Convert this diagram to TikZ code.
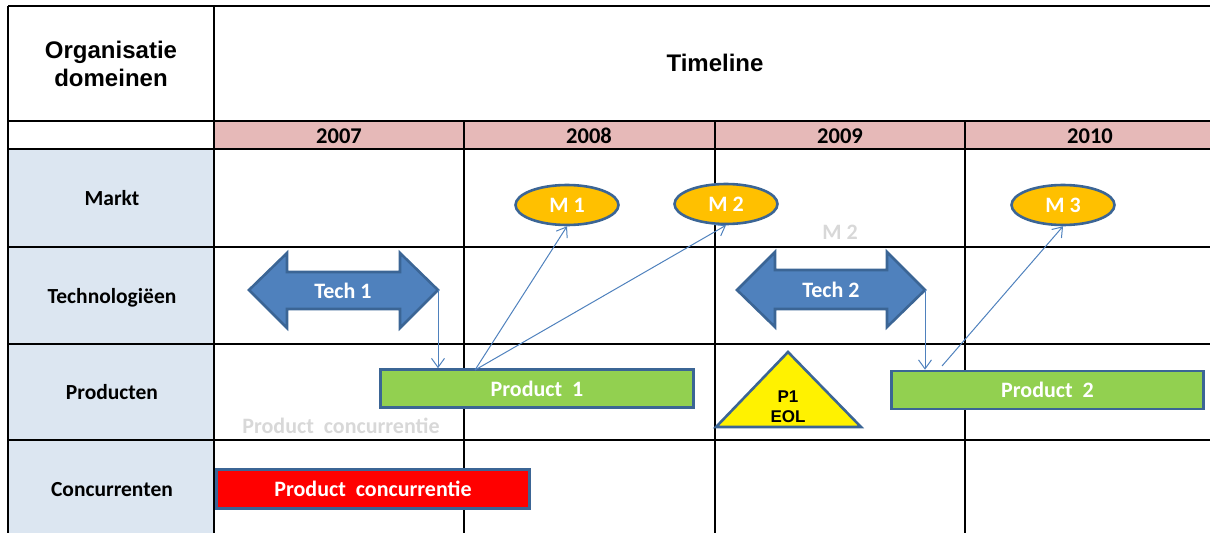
\documentclass[tikz,border=0pt]{standalone}
\usepackage{fontspec}
\setmainfont{Carlito}[Numbers=Lining]
\newfontfamily\arialf{Liberation Sans}
\usetikzlibrary{arrows.meta,shapes.geometric}
\definecolor{yearfill}{HTML}{E6B9B8}
\definecolor{leftfill}{HTML}{DCE6F1}
\definecolor{techfill}{HTML}{4F81BD}
\definecolor{edgeblue}{HTML}{3B6595}
\definecolor{linkblue}{HTML}{4F81BD}
\definecolor{mfill}{HTML}{FFC000}
\definecolor{pfill}{HTML}{92D050}
\definecolor{ghost}{HTML}{D8D8D8}
\begin{document}
\begin{tikzpicture}[x=1pt,y=-1pt,
  grid/.style={line width=1.6pt,black},
  hdr/.style={font=\arialf\bfseries\fontsize{24}{28}\selectfont,align=center},
  year/.style={font=\bfseries\fontsize{22.5}{24}\selectfont,anchor=base},
  rowlab/.style={font=\bfseries\fontsize{21.5}{24}\selectfont,anchor=base},
  shapelab/.style={font=\bfseries\fontsize{22}{24}\selectfont,text=white,anchor=base},
  mnode/.style={ellipse,draw=edgeblue,line width=2.6pt,fill=mfill,minimum width=103,minimum height=40,inner sep=0pt,font=\bfseries\fontsize{22}{24}\selectfont,text=white},
  prodbox/.style={draw=edgeblue,line width=2.6pt,fill=pfill,minimum height=38,inner sep=0pt,font=\bfseries\fontsize{22}{24}\selectfont,text=white},
  techarrow/.style={draw=edgeblue,line width=2.6pt,fill=techfill,line join=miter},
  link/.style={linkblue,line width=1pt,-{Straight Barb[length=9pt,width=13pt]}},
  ghosttext/.style={font=\bfseries\fontsize{22}{24}\selectfont,text=ghost,anchor=base}
]
\useasboundingbox (0,0) rectangle (1210,533);
% fills
\fill[yearfill] (214,121) rectangle (1210,149);
\fill[leftfill] (8,149) rectangle (214,533);
% grid
\draw[grid] (8,6) -- (1210,6);
\draw[grid] (8,6) -- (8,533);
\draw[grid] (214,6) -- (214,533);
\foreach \yy in {121,149,247,344,440} \draw[grid] (8,\yy) -- (1210,\yy);
\foreach \xx in {464,715,965} \draw[grid] (\xx,121) -- (\xx,533);
% headers
\node[hdr] (org) at (111,64) {Organisatie\\domeinen};
\node[hdr] (timeline) at (715,63) {Timeline};
\node[year] (y2007) at (339,143) {2007};
\node[year] (y2008) at (589,143) {2008};
\node[year] (y2009) at (840,143) {2009};
\node[year] (y2010) at (1090,143) {2010};
\node[rowlab] (markt) at (112,205) {Markt};
\node[rowlab] (tech) at (112,303) {Technologiëen};
\node[rowlab] (prod) at (112,399) {Producten};
\node[rowlab] (conc) at (112,496) {Concurrenten};
% ghost texts
\node[ghosttext] (ghostpc) at (341,433) {Product\ \ concurrentie};
\node[ghosttext] (ghostm2) at (840,239) {M 2};
% technology double arrows
\draw[techarrow] (249,290) -- (287,253) -- (287,272) -- (400,272) -- (400,253) -- (438,290) -- (400,328) -- (400,309) -- (287,309) -- (287,328) -- cycle;
\node[shapelab] (tech1) at (343,298) {Tech 1};
\coordinate (t1tip) at (438,290);
\draw[techarrow] (737,290) -- (775,252) -- (775,270) -- (887,270) -- (887,252) -- (925,290) -- (887,327) -- (887,309) -- (775,309) -- (775,327) -- cycle;
\node[shapelab] (tech2) at (831,297) {Tech 2};
\coordinate (t2tip) at (925,290);
% markets
\node[mnode] (m1) at (567,205) {M 1};
\node[mnode] (m2) at (726,204) {M 2};
\node[mnode] (m3) at (1063,205) {M 3};
% products
\node[prodbox,minimum width=313] (p1) at (537,388.5) {Product\ \ 1};
\node[prodbox,minimum width=312] (p2) at (1047.5,390) {Product\ \ 2};
\node[prodbox,fill=red,minimum width=313,minimum height=39] (pc) at (373,489) {Product\ \ concurrentie};
% EOL triangle
\draw[draw=edgeblue,line width=2.6pt,fill=yellow,line join=miter] (716,427) -- (788,352) -- (861,427) -- cycle;
\node[font=\arialf\bfseries\fontsize{17}{20}\selectfont,align=center] (eol) at (788,407) {P1\\EOL};
% connectors
\coordinate (p1src) at (475,370);
\coordinate (p2src) at (942,366);
\draw[link] (t1tip) -- (t1tip |- p1.north);
\draw[link] (p1src) -- (m1.south);
\draw[link] (p1src) -- (m2.south);
\draw[link] (t2tip) -- (t2tip |- p2.north);
\draw[link] (p2src) -- (m3.south);
\end{tikzpicture}
\end{document}
